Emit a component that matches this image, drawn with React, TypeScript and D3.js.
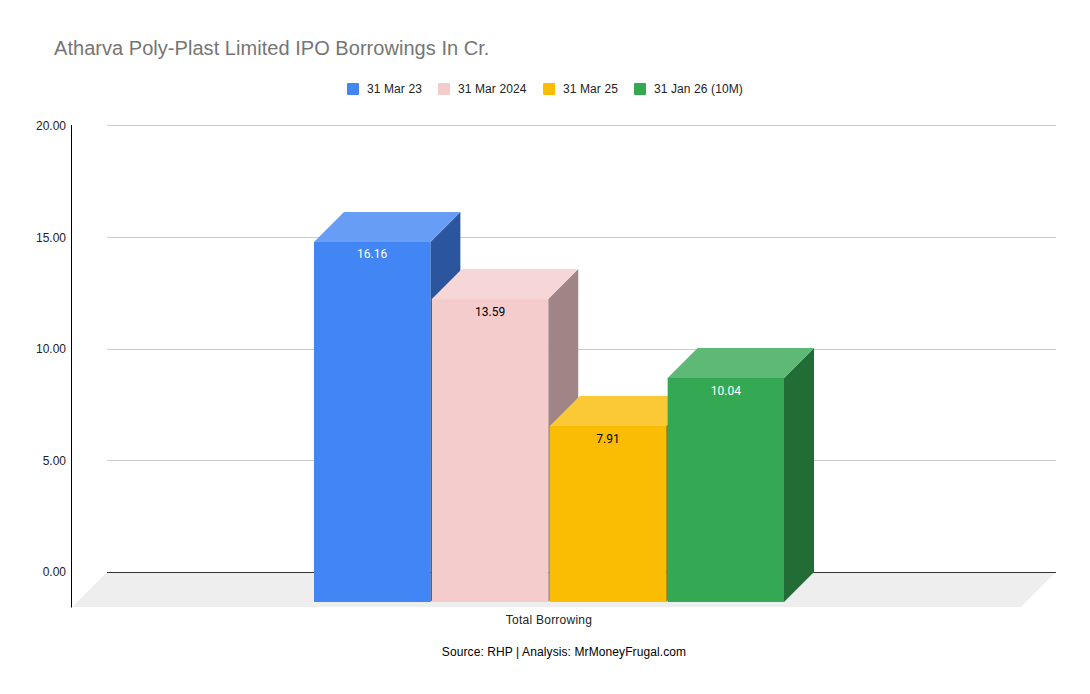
import * as d3 from "d3";

const title = "Atharva Poly-Plast Limited IPO Borrowings In Cr.";
const category = "Total Borrowing";
const source = "Source: RHP | Analysis: MrMoneyFrugal.com";
const seriesNames = ["31 Mar 23", "31 Mar 2024", "31 Mar 25", "31 Jan 26 (10M)"];
const seriesValues = [16.16, 13.59, 7.91, 10.04];
const seriesColors = ["#4285f4", "#f4cccc", "#fbbc04", "#34a853"];
const labelColors = ["#ffffff", "#000000", "#000000", "#ffffff"];
const yTicks = [0, 5, 10, 15, 20];
const legendX = [347, 438, 543, 634];

const width = 1090;
const height = 694;
const depth = 30;
const font = "'Liberation Sans', Arial, sans-serif";
const labelFont = "Roboto, Arial, sans-serif";

// lighter top face, darker side face
const lighten = (c: string) => d3.interpolateRgb(c, "#ffffff")(0.2);
const darken = (c: string) => d3.interpolateRgb(c, "#000000")(0.35);

export default function App() {
  const y = d3.scaleLinear().domain([0, 20]).range([572, 125.4]);
  const x = d3.scaleBand<number>().domain(d3.range(seriesValues.length)).range([314, 784]).paddingInner(0.013);

  const floor = d3.line()([
    [107, y(0)],
    [1056, y(0)],
    [1021, 607],
    [72, 607],
  ]) + "Z";

  return (
    <svg
      width={width}
      height={height}
      style={{ position: "absolute", left: 0, top: 0, background: "#fff" }}
    >
      <text x={54} y={55} fontFamily={font} fontSize={20} letterSpacing={0.04} fill="#757575">
        {title}
      </text>

      {/* legend */}
      {seriesNames.map((name, i) => (
        <g key={name}>
          <rect x={legendX[i]} y={83} width={12} height={12} rx={1} fill={seriesColors[i]} />
          <text x={legendX[i] + 20} y={93} fontFamily={font} fontSize={12} letterSpacing={0.1} fill="#222222">
            {name}
          </text>
        </g>
      ))}

      {/* floor, grid and axes */}
      <path d={floor} fill="#eeeeee" />
      {yTicks.map((t) => (
        <g key={t}>
          {t > 0 && <line x1={107} x2={1056} y1={Math.round(y(t)) + 0.5} y2={Math.round(y(t)) + 0.5} stroke="#cccccc" />}
          {/* tick labels sit a touch lower towards the top of the axis */}
          <text x={66} y={y(t) + 4 + t * 0.03} textAnchor="end" fontFamily={font} fontSize={12} fill="#222222">
            {d3.format(".2f")(t)}
          </text>
        </g>
      ))}
      <line x1={107} x2={1056} y1={y(0) + 0.5} y2={y(0) + 0.5} stroke="#333333" />
      <line x1={71.5} x2={71.5} y1={125} y2={607.5} stroke="#000000" />

      {/* 3d bars */}
      {seriesValues.map((v, i) => {
        const x0 = x(i)!;
        const x1 = x0 + x.bandwidth();
        const back = Math.ceil(y(v));
        const top = back + depth;
        const bottom = y(0) + depth;
        const c = seriesColors[i];
        return (
          <g key={seriesNames[i]}>
            <path
              d={`M${x1},${top}L${x1 + depth},${back}L${x1 + depth},${y(0)}L${x1},${bottom}Z`}
              fill={darken(c)}
            />
            <path
              d={`M${x0},${top}L${x0 + depth},${back}L${x1 + depth},${back}L${x1},${top}Z`}
              fill={lighten(c)}
            />
            <rect x={x0} y={top} width={x.bandwidth()} height={bottom - top} fill={c} />
            <text
              x={(x0 + x1) / 2}
              y={Math.round(y(v) + depth + 17.3)}
              textAnchor="middle"
              fontFamily={labelFont}
              fontSize={12}
              fill={labelColors[i]}
            >
              {v.toFixed(2)}
            </text>
          </g>
        );
      })}

      <text x={549} y={624} textAnchor="middle" fontFamily={font} fontSize={12} letterSpacing={0.25} fill="#222222">
        {category}
      </text>
      <text x={564} y={656} textAnchor="middle" fontFamily={font} fontSize={12} letterSpacing={0.1} fill="#000000">
        {source}
      </text>
    </svg>
  );
}
